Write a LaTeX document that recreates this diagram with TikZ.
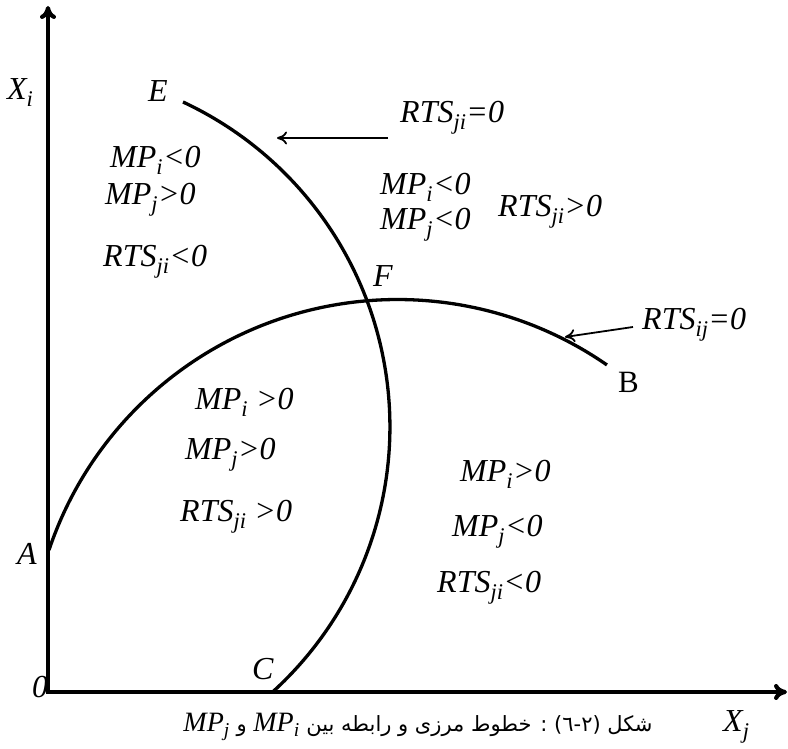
\documentclass[tikz,border=0pt]{standalone}
\usepackage{fontspec}
\setmainfont{Liberation Serif}
\newfontfamily\persianfont[Script=Arabic]{DejaVu Sans}
\TeXXeTstate=1
\usetikzlibrary{arrows.meta}
\newcommand{\sbs}[1]{\textsubscript{#1}}
\newcommand{\capmp}[1]{{\fontsize{28}{30}\selectfont\rmfamily\itshape MP\textsubscript{#1}}}
\begin{document}
\begin{tikzpicture}[x=1pt,y=1pt,
  lbl/.style={font=\fontsize{32}{34}\selectfont\itshape, inner sep=0pt, anchor=base west},
  axis/.style={line width=4.2pt, line join=miter, {To[length=13pt,width=16pt]}-{To[length=13pt,width=16pt]}},
  curve/.style={line width=3.3pt},
  pointer/.style={line width=1.8pt, -{To[length=10pt,width=13pt]}}]
\useasboundingbox (0,0) rectangle (788,749);
% axes
\coordinate (O) at (48,57);
\coordinate (ytop) at (48,743);
\coordinate (xend) at (787,57);
\draw[axis] (ytop) -- (O) -- (xend);
\node[lbl] (xi) at (7,649) {X\sbs{i}};
\node[lbl] (xj) at (723,17) {X\sbs{j}};
\node[lbl] (zero) at (32,51) {0};
% boundary curves
\coordinate (A) at (49,199);
\coordinate (E) at (183,647);
\draw[curve] (A) arc[start angle=161.4, end angle=55.3, radius=367.8] coordinate (B);
\draw[curve] (E) arc[start angle=65.0, end angle=-47.7, radius=358.4] coordinate (C);
\node[lbl] (la) at (17,184) {A};
\node[lbl] (le) at (148,647) {E};
\node[lbl] (lf) at (373,462) {F};
\node[lbl] (lc) at (252,69) {C};
\node[lbl, font=\fontsize{31}{34}\selectfont] (lb) at (618,356) {B};
% pointers
\node[lbl] (rtsji0) at (400,626) {RTS\sbs{ji}=0};
\coordinate (p1s) at (388,611);
\coordinate (p1e) at (277,611);
\draw[pointer] (p1s) -- (p1e);
\node[lbl] (rtsij0) at (642,419) {RTS\sbs{ij}=0};
\coordinate (p2s) at (633,422);
\coordinate (p2e) at (565,412);
\draw[pointer] (p2s) -- (p2e);
% region upper left
\node[lbl] (ul1) at (110,581) {MP\sbs{i}<0};
\node[lbl] (ul2) at (105,544) {MP\sbs{j}>0};
\node[lbl] (ul3) at (103,482) {RTS\sbs{ji}<0};
% region upper right
\node[lbl] (ur1) at (380,554) {MP\sbs{i}<0};
\node[lbl] (ur2) at (380,519) {MP\sbs{j}<0};
\node[lbl] (ur3) at (498,532) {RTS\sbs{ji}>0};
% region lower left
\node[lbl] (ll1) at (195,339) {MP\sbs{i} >0};
\node[lbl] (ll2) at (185,289) {MP\sbs{j}>0};
\node[lbl] (ll3) at (180,227) {RTS\sbs{ji} >0};
% region lower right
\node[lbl] (lr1) at (460,267) {MP\sbs{i}>0};
\node[lbl] (lr2) at (452,212) {MP\sbs{j}<0};
\node[lbl] (lr3) at (437,156) {RTS\sbs{ji}<0};
% caption
\node[inner sep=0pt, anchor=base] (caption) at (418,17)
  {\fontsize{21}{24}\selectfont\persianfont\beginR شکل \beginL\hbox{)}\hbox{٦}\hbox{-}\hbox{٢}\hbox{(}\endL{} : خطوط مرزی و رابطه بین \beginL\capmp{i}\endL{} و \beginL\capmp{j}\endL\endR};
\end{tikzpicture}
\end{document}
